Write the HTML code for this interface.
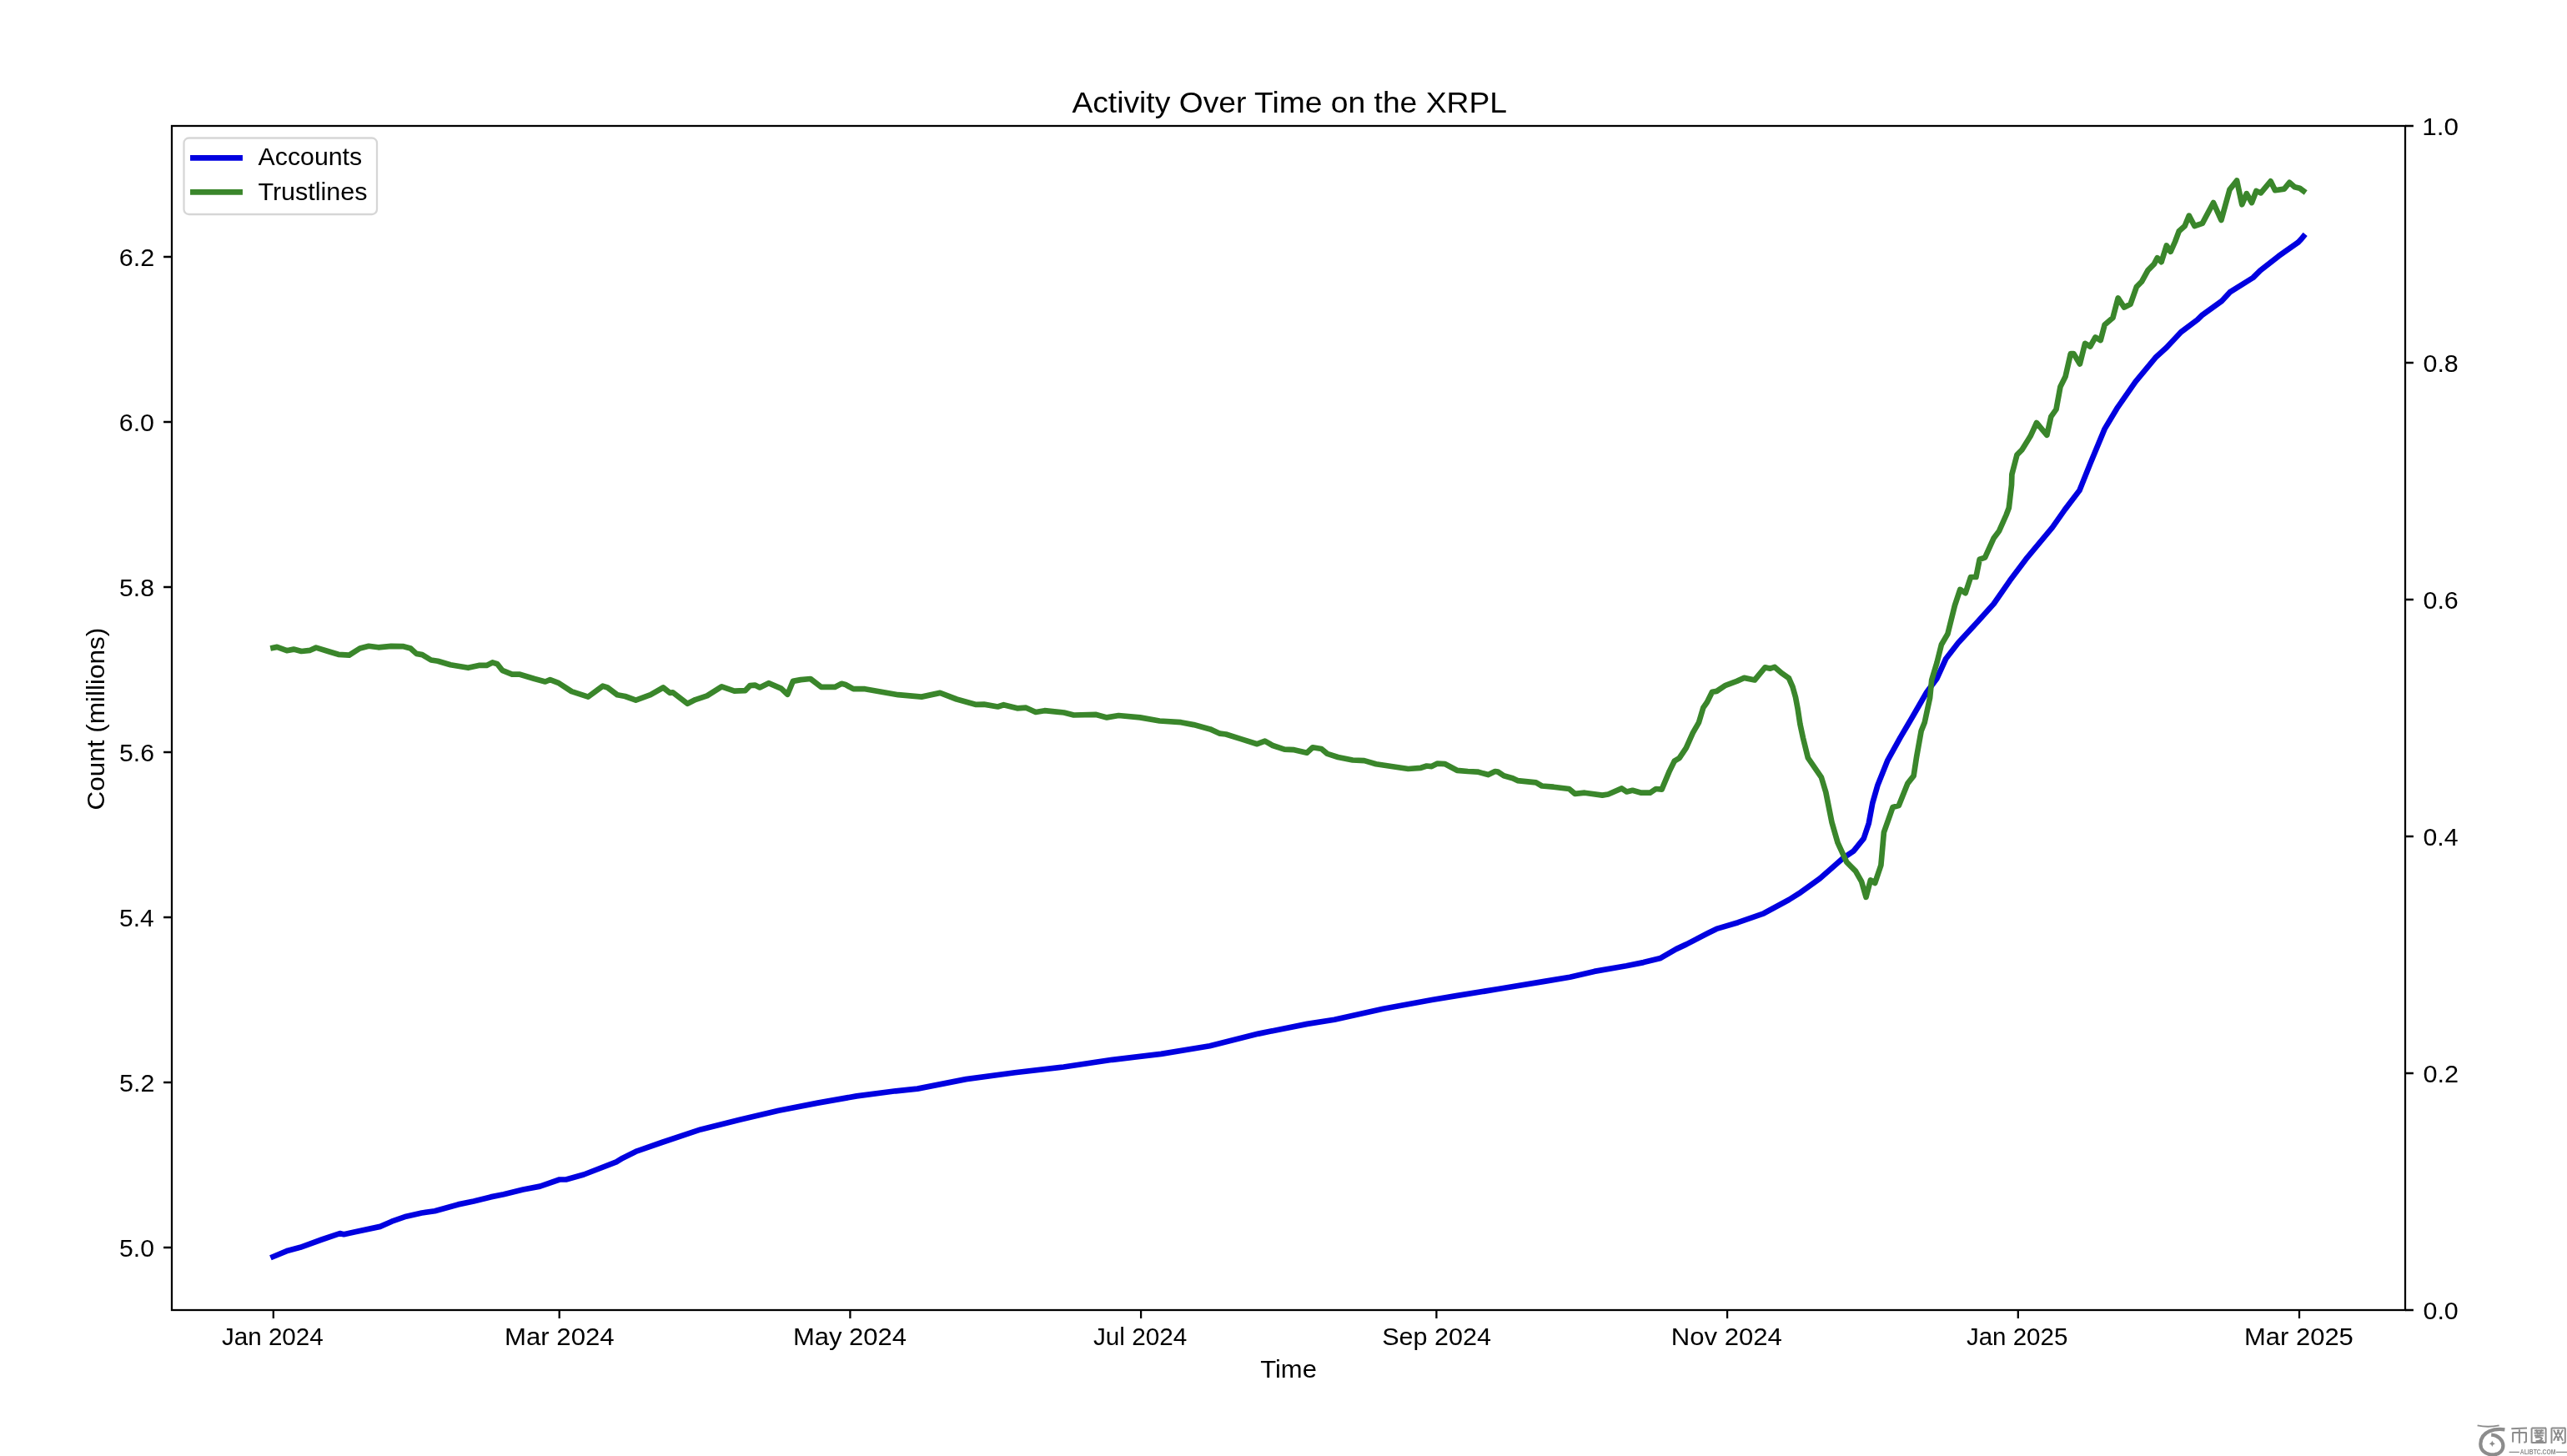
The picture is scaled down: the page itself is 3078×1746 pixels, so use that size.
<!DOCTYPE html><html><head><meta charset="utf-8"><style>html,body{margin:0;padding:0;background:#fff;overflow:hidden}svg{display:block;will-change:transform}text{font-family:"Liberation Sans",sans-serif;fill:#000}</style></head><body>
<svg width="3078" height="1746" viewBox="0 0 3078 1746">
<rect width="3078" height="1746" fill="#fff"/>
<polyline points="327.5,1507.0 345.2,1499.7 360.0,1495.8 385.7,1486.5 407.5,1479.1 412.2,1480.2 424.7,1477.4 455.8,1470.9 469.8,1464.7 487.0,1458.7 505.7,1454.5 521.3,1452.2 549.3,1444.4 568.0,1440.5 588.3,1435.4 603.9,1432.2 627.2,1426.5 647.5,1422.6 670.9,1414.5 678.7,1414.5 700.0,1408.5 739.0,1393.4 746.7,1388.7 762.3,1380.9 793.5,1370.0 840.2,1354.4 887.0,1342.7 933.7,1331.8 980.5,1322.6 1027.2,1314.4 1074.0,1308.3 1100.0,1305.6 1158.4,1294.1 1216.9,1286.3 1275.3,1279.5 1333.7,1270.8 1392.2,1263.9 1450.6,1254.2 1509.0,1239.6 1567.5,1227.9 1600.0,1222.7 1658.4,1209.7 1716.9,1199.0 1746.1,1194.1 1794.8,1186.3 1853.2,1176.6 1882.4,1171.7 1911.6,1164.9 1950.0,1158.2 1970.6,1154.1 1991.2,1148.9 2009.8,1138.1 2022.1,1132.4 2047.9,1119.0 2058.2,1113.9 2084.0,1106.2 2114.9,1095.3 2145.0,1079.0 2157.1,1071.4 2182.1,1053.6 2196.4,1041.1 2210.0,1029.0 2222.7,1020.4 2234.8,1005.3 2240.8,987.2 2245.3,963.0 2251.4,941.8 2263.5,911.6 2278.6,884.4 2293.7,858.7 2310.3,830.0 2322.6,813.4 2333.2,790.0 2348.1,770.8 2371.6,745.3 2390.7,724.0 2409.9,696.3 2429.1,670.7 2461.0,632.4 2475.9,611.1 2493.5,588.0 2506.3,556.0 2523.6,514.4 2538.4,489.7 2560.7,457.6 2585.4,427.9 2597.8,416.8 2615.1,398.2 2634.9,383.4 2640.0,378.3 2664.0,361.0 2673.7,350.4 2701.5,333.0 2710.2,324.4 2732.3,307.1 2755.4,290.8 2759.2,286.9 2762.0,283.5" fill="none" stroke="#0000e0" stroke-width="6.7" stroke-linejoin="round" stroke-linecap="square"/>
<polyline points="327.5,776.9 332.2,775.9 343.9,780.2 352.1,778.6 361.4,781.0 371.9,779.8 379.0,776.6 394.1,781.3 405.8,784.8 418.7,785.6 431.5,777.5 442.1,774.8 453.7,776.3 468.9,774.8 483.0,775.1 492.3,777.5 499.3,783.9 506.3,785.1 516.8,791.5 525.0,792.7 540.2,797.3 561.3,800.8 574.1,797.9 583.5,797.9 590.5,794.4 596.3,796.2 602.2,803.8 614.0,808.7 623.4,808.7 640.9,814.0 653.8,817.5 659.6,815.1 670.1,819.2 685.3,829.1 705.2,835.6 722.7,822.7 728.5,824.5 740.2,833.2 749.6,835.0 762.4,839.7 780.0,833.2 795.2,824.5 803.3,830.9 806.8,830.3 824.4,843.8 833.7,839.1 847.8,834.4 865.3,823.3 880.5,828.6 893.5,828.2 899.3,822.1 905.2,821.6 911.0,824.5 921.6,819.2 936.7,825.6 944.3,832.7 950.8,816.9 960.1,815.1 971.8,814.0 984.7,823.9 1001.0,823.9 1009.2,819.8 1013.9,821.0 1023.2,826.2 1037.2,826.2 1077.0,833.2 1105.0,835.6 1127.2,830.9 1147.1,838.5 1170.5,844.9 1180.0,844.6 1196.4,847.5 1203.4,845.2 1219.7,849.3 1230.3,848.7 1241.9,854.0 1252.5,852.2 1275.8,854.5 1287.5,857.5 1314.4,856.9 1327.2,860.4 1341.3,858.0 1367.0,860.4 1390.4,864.5 1416.1,866.2 1431.3,869.1 1451.1,874.4 1462.8,879.7 1470.0,880.5 1488.7,886.4 1507.4,892.2 1516.7,888.7 1526.1,894.0 1540.1,898.6 1551.8,899.2 1567.0,902.7 1574.0,896.3 1584.5,898.0 1591.5,903.9 1604.4,908.0 1621.9,911.5 1635.9,912.1 1650.0,916.2 1688.5,922.0 1703.7,920.8 1710.7,918.5 1716.6,919.1 1723.6,915.6 1732.9,916.2 1747.0,923.8 1760.0,925.0 1771.7,925.6 1784.5,929.1 1792.7,925.0 1796.2,925.6 1803.2,930.3 1813.8,933.2 1819.6,936.1 1841.8,938.4 1848.8,942.5 1862.8,943.7 1881.5,946.0 1888.5,951.9 1900.2,950.7 1921.3,953.6 1928.3,952.5 1944.6,945.4 1950.5,949.5 1957.5,947.8 1968.0,950.7 1978.5,950.7 1985.5,946.0 1992.6,946.6 2001.9,924.4 2007.7,912.7 2013.6,909.2 2021.8,896.8 2029.8,878.9 2037.0,866.4 2042.3,848.6 2046.8,842.3 2053.0,829.8 2058.4,828.9 2069.1,821.8 2082.5,816.9 2091.4,812.9 2103.9,815.5 2116.4,800.4 2122.7,801.7 2128.0,799.9 2136.1,807.1 2145.0,813.3 2149.5,823.6 2153.0,836.1 2155.7,850.4 2158.4,868.2 2162.0,885.0 2167.9,908.9 2183.9,932.1 2189.3,950.0 2196.4,985.7 2203.6,1010.7 2214.3,1033.9 2225.0,1044.6 2232.1,1057.1 2237.5,1075.9 2242.9,1055.4 2248.2,1058.9 2255.4,1037.5 2258.9,998.2 2269.6,967.9 2276.8,966.1 2287.5,939.3 2294.6,930.4 2298.2,907.1 2303.6,876.8 2307.7,866.6 2314.1,836.8 2316.2,815.5 2322.6,794.2 2327.9,773.0 2335.4,760.2 2343.9,726.1 2350.3,706.9 2356.7,711.2 2363.0,692.0 2369.4,692.0 2373.7,670.7 2380.1,668.6 2390.7,645.2 2397.1,636.7 2405.6,617.5 2408.8,609.0 2412.0,581.3 2412.4,568.8 2418.5,545.3 2424.7,539.1 2434.6,523.1 2442.0,507.0 2454.4,521.8 2459.3,499.6 2465.5,490.9 2470.5,463.7 2476.6,451.4 2482.8,424.2 2486.5,424.2 2493.9,436.5 2500.1,411.8 2506.3,415.5 2512.5,404.4 2518.7,408.1 2523.6,389.6 2533.5,380.9 2539.7,357.4 2547.1,368.6 2554.5,364.8 2561.9,343.8 2568.1,337.7 2575.5,324.1 2582.9,316.6 2586.7,309.2 2591.6,314.2 2597.8,294.4 2602.7,301.8 2608.0,290.0 2612.7,277.3 2619.7,271.0 2624.8,258.6 2631.4,271.0 2640.8,267.9 2654.0,243.0 2663.4,264.0 2673.5,227.4 2682.1,216.5 2688.3,245.3 2693.8,232.1 2700.0,243.0 2705.4,229.0 2710.9,231.3 2722.6,217.3 2728.0,228.2 2738.9,226.6 2745.2,218.8 2751.4,224.3 2757.6,225.8 2762.0,229.0" fill="none" stroke="#3a862b" stroke-width="6.7" stroke-linejoin="round" stroke-linecap="square"/>
<rect x="206" y="151" width="2678" height="1420" fill="none" stroke="#000" stroke-width="2.27" stroke-linejoin="miter"/>
<text transform="translate(143.09,1506.80) scale(0.30153,0.29714)" font-size="100" >5.0</text>
<text transform="translate(143.08,1308.80) scale(0.30385,0.29714)" font-size="100" >5.2</text>
<text transform="translate(143.10,1110.80) scale(0.29924,0.29714)" font-size="100" >5.4</text>
<text transform="translate(143.09,912.80) scale(0.30153,0.29714)" font-size="100" >5.6</text>
<text transform="translate(143.09,714.80) scale(0.30153,0.29714)" font-size="100" >5.8</text>
<text transform="translate(142.78,516.80) scale(0.30385,0.29714)" font-size="100" >6.0</text>
<text transform="translate(142.77,318.80) scale(0.30620,0.29714)" font-size="100" >6.2</text>
<text transform="translate(2905.48,1581.80) scale(0.30458,0.29714)" font-size="100" >0.0</text>
<text transform="translate(2905.47,1297.80) scale(0.30692,0.29714)" font-size="100" >0.2</text>
<text transform="translate(2905.49,1013.80) scale(0.30227,0.29714)" font-size="100" >0.4</text>
<text transform="translate(2905.48,729.80) scale(0.30458,0.29714)" font-size="100" >0.6</text>
<text transform="translate(2905.48,445.80) scale(0.30458,0.29714)" font-size="100" >0.8</text>
<text transform="translate(2904.19,161.80) scale(0.31417,0.29714)" font-size="100" >1.0</text>
<text transform="translate(265.91,1612.70) scale(0.29631,0.29714)" font-size="100" >Jan 2024</text>
<text transform="translate(605.01,1612.70) scale(0.31168,0.29714)" font-size="100" >Mar 2024</text>
<text transform="translate(950.92,1612.70) scale(0.31028,0.29714)" font-size="100" >May 2024</text>
<text transform="translate(1310.90,1612.70) scale(0.29759,0.29714)" font-size="100" >Jul 2024</text>
<text transform="translate(1657.17,1612.70) scale(0.30571,0.29714)" font-size="100" >Sep 2024</text>
<text transform="translate(2003.71,1612.70) scale(0.31103,0.29714)" font-size="100" >Nov 2024</text>
<text transform="translate(2357.91,1612.70) scale(0.29531,0.29714)" font-size="100" >Jan 2025</text>
<text transform="translate(2691.02,1612.70) scale(0.30976,0.29714)" font-size="100" >Mar 2025</text>
<path d="M196.1 1496H206 M196.1 1298H206 M196.1 1100H206 M196.1 902H206 M196.1 704H206 M196.1 506H206 M196.1 308H206 M2884 1571H2893.9 M2884 1287H2893.9 M2884 1003H2893.9 M2884 719H2893.9 M2884 435H2893.9 M2884 151H2893.9 M327.8 1571V1580.9 M670.7 1571V1580.9 M1019.4 1571V1580.9 M1368.1 1571V1580.9 M1722.4 1571V1580.9 M2071.1 1571V1580.9 M2419.8 1571V1580.9 M2757.0 1571V1580.9" stroke="#000" stroke-width="2.27" fill="none"/>
<text transform="translate(1285.40,134.90) scale(0.37258,0.35571)" font-size="100" >Activity Over Time on the XRPL</text>
<text transform="translate(1511.18,1651.90) scale(0.30991,0.30000)" font-size="100" >Time</text>
<g transform="translate(124.9,971.58) rotate(-90)"><text transform="scale(0.31508,0.29714)" font-size="100">Count (millions)</text></g>
<rect x="220.5" y="165.5" width="231.5" height="91.5" rx="6" ry="6" fill="#fff" fill-opacity="0.8" stroke="#d6d6d6" stroke-width="2.27"/>
<path d="M231.4 189.3H287.6" stroke="#0000e0" stroke-width="6.7" stroke-linecap="square"/>
<path d="M231.4 230.4H287.6" stroke="#3a862b" stroke-width="6.7" stroke-linecap="square"/>
<text transform="translate(309.60,197.80) scale(0.30294,0.30000)" font-size="100" >Accounts</text>
<text transform="translate(309.39,239.70) scale(0.30519,0.30000)" font-size="100" >Trustlines</text>
<g fill="none" stroke="#8c8c8c" stroke-linecap="butt">
<path d="M2970.6 1709.4 Q2983 1712.2 2996.6 1709.4" stroke-width="1.9"/>
<path d="M3003.4 1714.3 C2998 1713.6 2991 1713.8 2985 1716.2 C2977.5 1719.3 2974.5 1725.5 2974.3 1731.5 C2974.2 1738.5 2979.5 1743.5 2986.5 1744.3 C2989 1744.6 2991.5 1744.4 2993.5 1743.8" stroke-width="4.2"/>
<path d="M2987.2 1720.6 C2995.5 1721 3001.2 1727.2 3001.4 1733.5 C3001.5 1739.2 2997.2 1743.4 2991.5 1744.2" stroke-width="4.2"/>
<path d="M3011.3 1713.3 L3030 1712.4 M3012.5 1717.9 H3029.6 M3013.1 1717.9 V1729.4 M3020.9 1714.2 V1730.8 M3029 1717.9 V1728.8 Q3029 1729.6 3026.2 1729.6 M3035.6 1712.4 V1730.4 M3035.6 1712.6 H3053 M3052.6 1712.6 V1730.4 M3035.6 1730 H3052.6 M3039 1715.4 H3050 M3038.5 1718.6 H3050.5 M3039 1721.6 H3049.8 M3040 1723.8 Q3047 1722.8 3048 1725 Q3046.5 1728 3040.5 1728.2 H3050 M3041 1714.4 L3043.5 1720 M3048 1714.4 L3045 1720 M3059.5 1712.3 V1731 M3059.5 1712.6 H3076.2 M3075.8 1712.6 V1729.5 Q3075.8 1730.6 3071.8 1730.6 M3062 1714.6 L3068.5 1727.6 M3068.5 1714.6 L3062 1727.6 M3066.5 1714.6 L3073 1727.6 M3073 1714.6 L3066.5 1727.6" stroke-width="2.0"/>
<path d="M3008.6 1741.4 H3020.8 M3064.8 1741.4 H3078" stroke-width="1.1"/>
</g>
<path fill="#8c8c8c" d="M2988.4 1727.6 Q2989 1730.7 2992.1 1731.3 Q2989 1731.9 2988.4 1735 Q2987.8 1731.9 2984.7 1731.3 Q2987.8 1730.7 2988.4 1727.6Z"/>
<text x="3021.8" y="1743.9" font-size="9.3" textLength="42.6" lengthAdjust="spacingAndGlyphs" font-weight="bold" style="fill:#8c8c8c">ALIBTC.COM</text>

</svg></body></html>
